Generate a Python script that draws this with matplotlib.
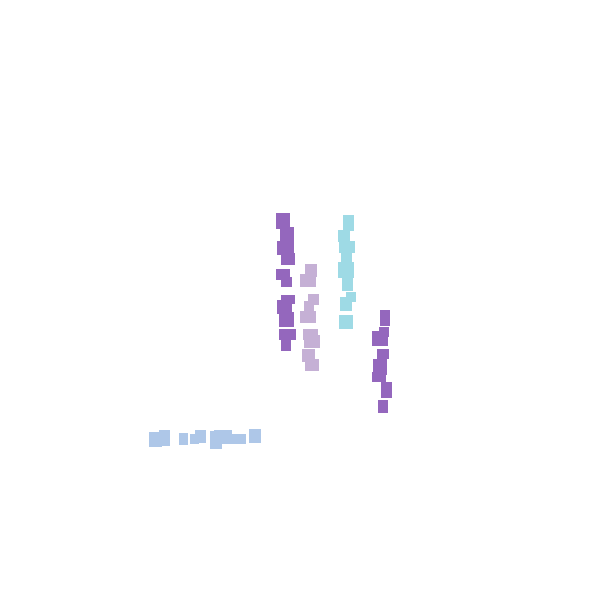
import matplotlib.pyplot as plt
from matplotlib.patches import Rectangle

# centres and sizes of each block, per group
purple_left_x = [283, 287, 285.5, 288, 283, 286.5, 288, 284.5, 286.5, 287.5, 286]
purple_left_y = [221, 234.5, 248, 259, 274.5, 282, 299.5, 307, 319.5, 334.5, 345]
purple_left_w = [14, 14, 17, 14, 14, 11, 14, 15, 15, 17, 10]
purple_left_h = [16, 15, 14, 12, 11, 10, 9, 14, 15, 11, 12]

lilac_x = [311, 308, 313.5, 309, 308, 310.5, 312, 308.5, 312]
lilac_y = [270.5, 280.5, 299.5, 306, 317, 334.5, 341.5, 355.5, 365]
lilac_w = [12, 16, 11, 10, 16, 15, 16, 13, 14]
lilac_h = [13, 13, 11, 10, 12, 11, 13, 13, 12]

cyan_x = [348.5, 344, 347, 346.5, 346, 347.5, 351, 346, 346]
cyan_y = [223, 236, 247, 258, 270, 284, 297, 304, 322]
cyan_w = [11, 12, 16, 11, 16, 11, 10, 12, 14]
cyan_h = [16, 12, 12, 10, 16, 14, 10, 14, 14]

purple_right_x = [385, 384, 380, 383, 380, 379, 386.5, 383]
purple_right_y = [318, 332, 338.5, 354, 367, 377, 390, 406.5]
purple_right_w = [10, 10, 16, 12, 14, 14, 11, 10]
purple_right_h = [16, 10, 15, 10, 16, 10, 16, 13]

blue_x = [155.5, 164.5, 183.5, 194.5, 200.5, 216, 223, 238, 255]
blue_y = [439.5, 438, 439, 439, 436.5, 440, 437, 439, 436]
blue_w = [13, 11, 9, 9, 11, 12, 18, 16, 12]
blue_h = [15, 16, 12, 10, 13, 18, 14, 10, 14]

groups = [
    (purple_left_x, purple_left_y, purple_left_w, purple_left_h, '#9467bd'),
    (lilac_x, lilac_y, lilac_w, lilac_h, '#c5b0d5'),
    (cyan_x, cyan_y, cyan_w, cyan_h, '#9edae5'),
    (purple_right_x, purple_right_y, purple_right_w, purple_right_h, '#9467bd'),
    (blue_x, blue_y, blue_w, blue_h, '#aec7e8'),
]

fig = plt.figure(figsize=(6, 6), dpi=100)
ax = fig.add_axes([0, 0, 1, 1])
for xs, ys, ws, hs, col in groups:
    for x, y, w, h in zip(xs, ys, ws, hs):
        ax.add_patch(Rectangle((x - w / 2, y - h / 2), w, h,
                               facecolor=col, edgecolor='none'))
ax.set_xlim(0, 600)
ax.set_ylim(600, 0)
ax.axis('off')

fig.savefig('out.png', dpi=100)
